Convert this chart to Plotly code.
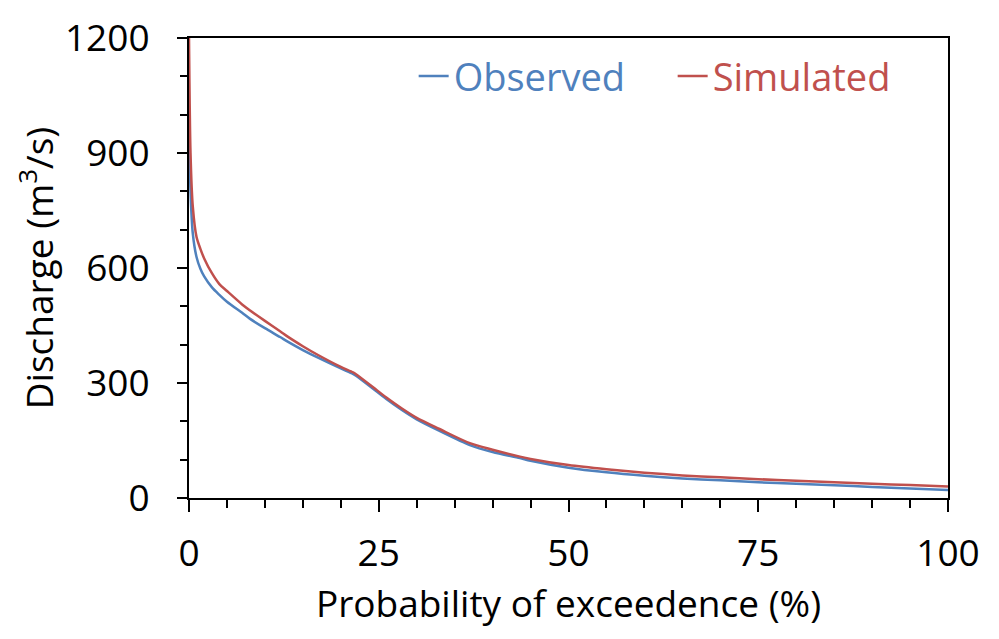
import plotly.graph_objects as go

# Probability of exceedence (%)
prob = [0, 0.2, 0.5, 1, 1.5, 2, 3, 4, 5, 7, 8, 10, 12, 13, 15, 17, 20, 21.6, 22, 24, 26, 28, 30,
        33, 37, 40, 43.6, 45, 50, 55, 60, 65, 70, 75, 80, 85, 90, 95, 100]
observed = [1000, 800, 690, 628, 598, 578, 550, 530, 512, 483, 468, 443, 420, 408, 386, 366, 338, 324, 319,
            289, 258, 230, 205, 175, 138, 120, 104, 97, 79, 67, 58, 51, 46, 41, 37, 33, 29, 25, 21]
simulated = [1200, 900, 760, 680, 650, 625, 587, 558, 540, 505, 490, 462, 435, 421, 396, 373, 342, 328, 323,
             293, 262, 234, 209, 180, 143, 126, 108, 102, 86, 75, 66, 59, 54, 49, 45, 41, 37, 34, 30]

x_ticks = [0, 25, 50, 75, 100]
y_ticks = [0, 300, 600, 900, 1200]

BLUE = "#4F81BD"
RED = "#C0504D"
FONT = "Open Sans"
FS = 37

fig = go.Figure()
fig.add_trace(go.Scatter(x=prob, y=observed, mode="lines",
                         name=f'<span style="color:{BLUE}">Observed</span>',
                         line=dict(color=BLUE, width=2.5, shape="spline", smoothing=0.8)))
fig.add_trace(go.Scatter(x=prob, y=simulated, mode="lines",
                         name=f'<span style="color:{RED}">Simulated</span>',
                         line=dict(color=RED, width=2.5, shape="spline", smoothing=0.8)))

fig.update_layout(
    width=999, height=639,
    margin=dict(l=189, r=51, t=38, b=141),
    paper_bgcolor="white", plot_bgcolor="white",
    font=dict(family=FONT, size=FS, color="black"),
    showlegend=True,
    legend=dict(orientation="h", x=0.296, xanchor="left", y=0.985, yanchor="top",
                bgcolor="rgba(0,0,0,0)", itemwidth=30, font=dict(size=38),
                entrywidth=214, entrywidthmode="pixels"),
    xaxis=dict(range=[0, 100], tickvals=x_ticks, ticktext=[str(v) for v in x_ticks],
               showgrid=False, zeroline=False,
               showline=True, linecolor="black", linewidth=2, mirror=True,
               ticks="outside", ticklen=12, tickwidth=2, tickcolor="black",
               ticklabelstandoff=10,
               minor=dict(dtick=5, ticks="outside", ticklen=8, tickwidth=2, tickcolor="black", showgrid=False),
               title=dict(text="Probability of exceedence (%)", standoff=0, font=dict(size=FS)),
               tickfont=dict(size=FS)),
    yaxis=dict(range=[0, 1200], tickvals=y_ticks, ticktext=[str(v) for v in y_ticks],
               showgrid=False, zeroline=False,
               showline=True, linecolor="black", linewidth=2, mirror=True,
               ticks="outside", ticklen=10, tickwidth=2, tickcolor="black",
               ticklabelstandoff=20,
               minor=dict(dtick=100, ticks="outside", ticklen=7, tickwidth=2, tickcolor="black", showgrid=False),
               title=dict(text="Discharge (m<sup>3</sup>/s)", standoff=0, font=dict(size=FS)),
               tickfont=dict(size=FS)),
)

fig.write_html("out.html")
